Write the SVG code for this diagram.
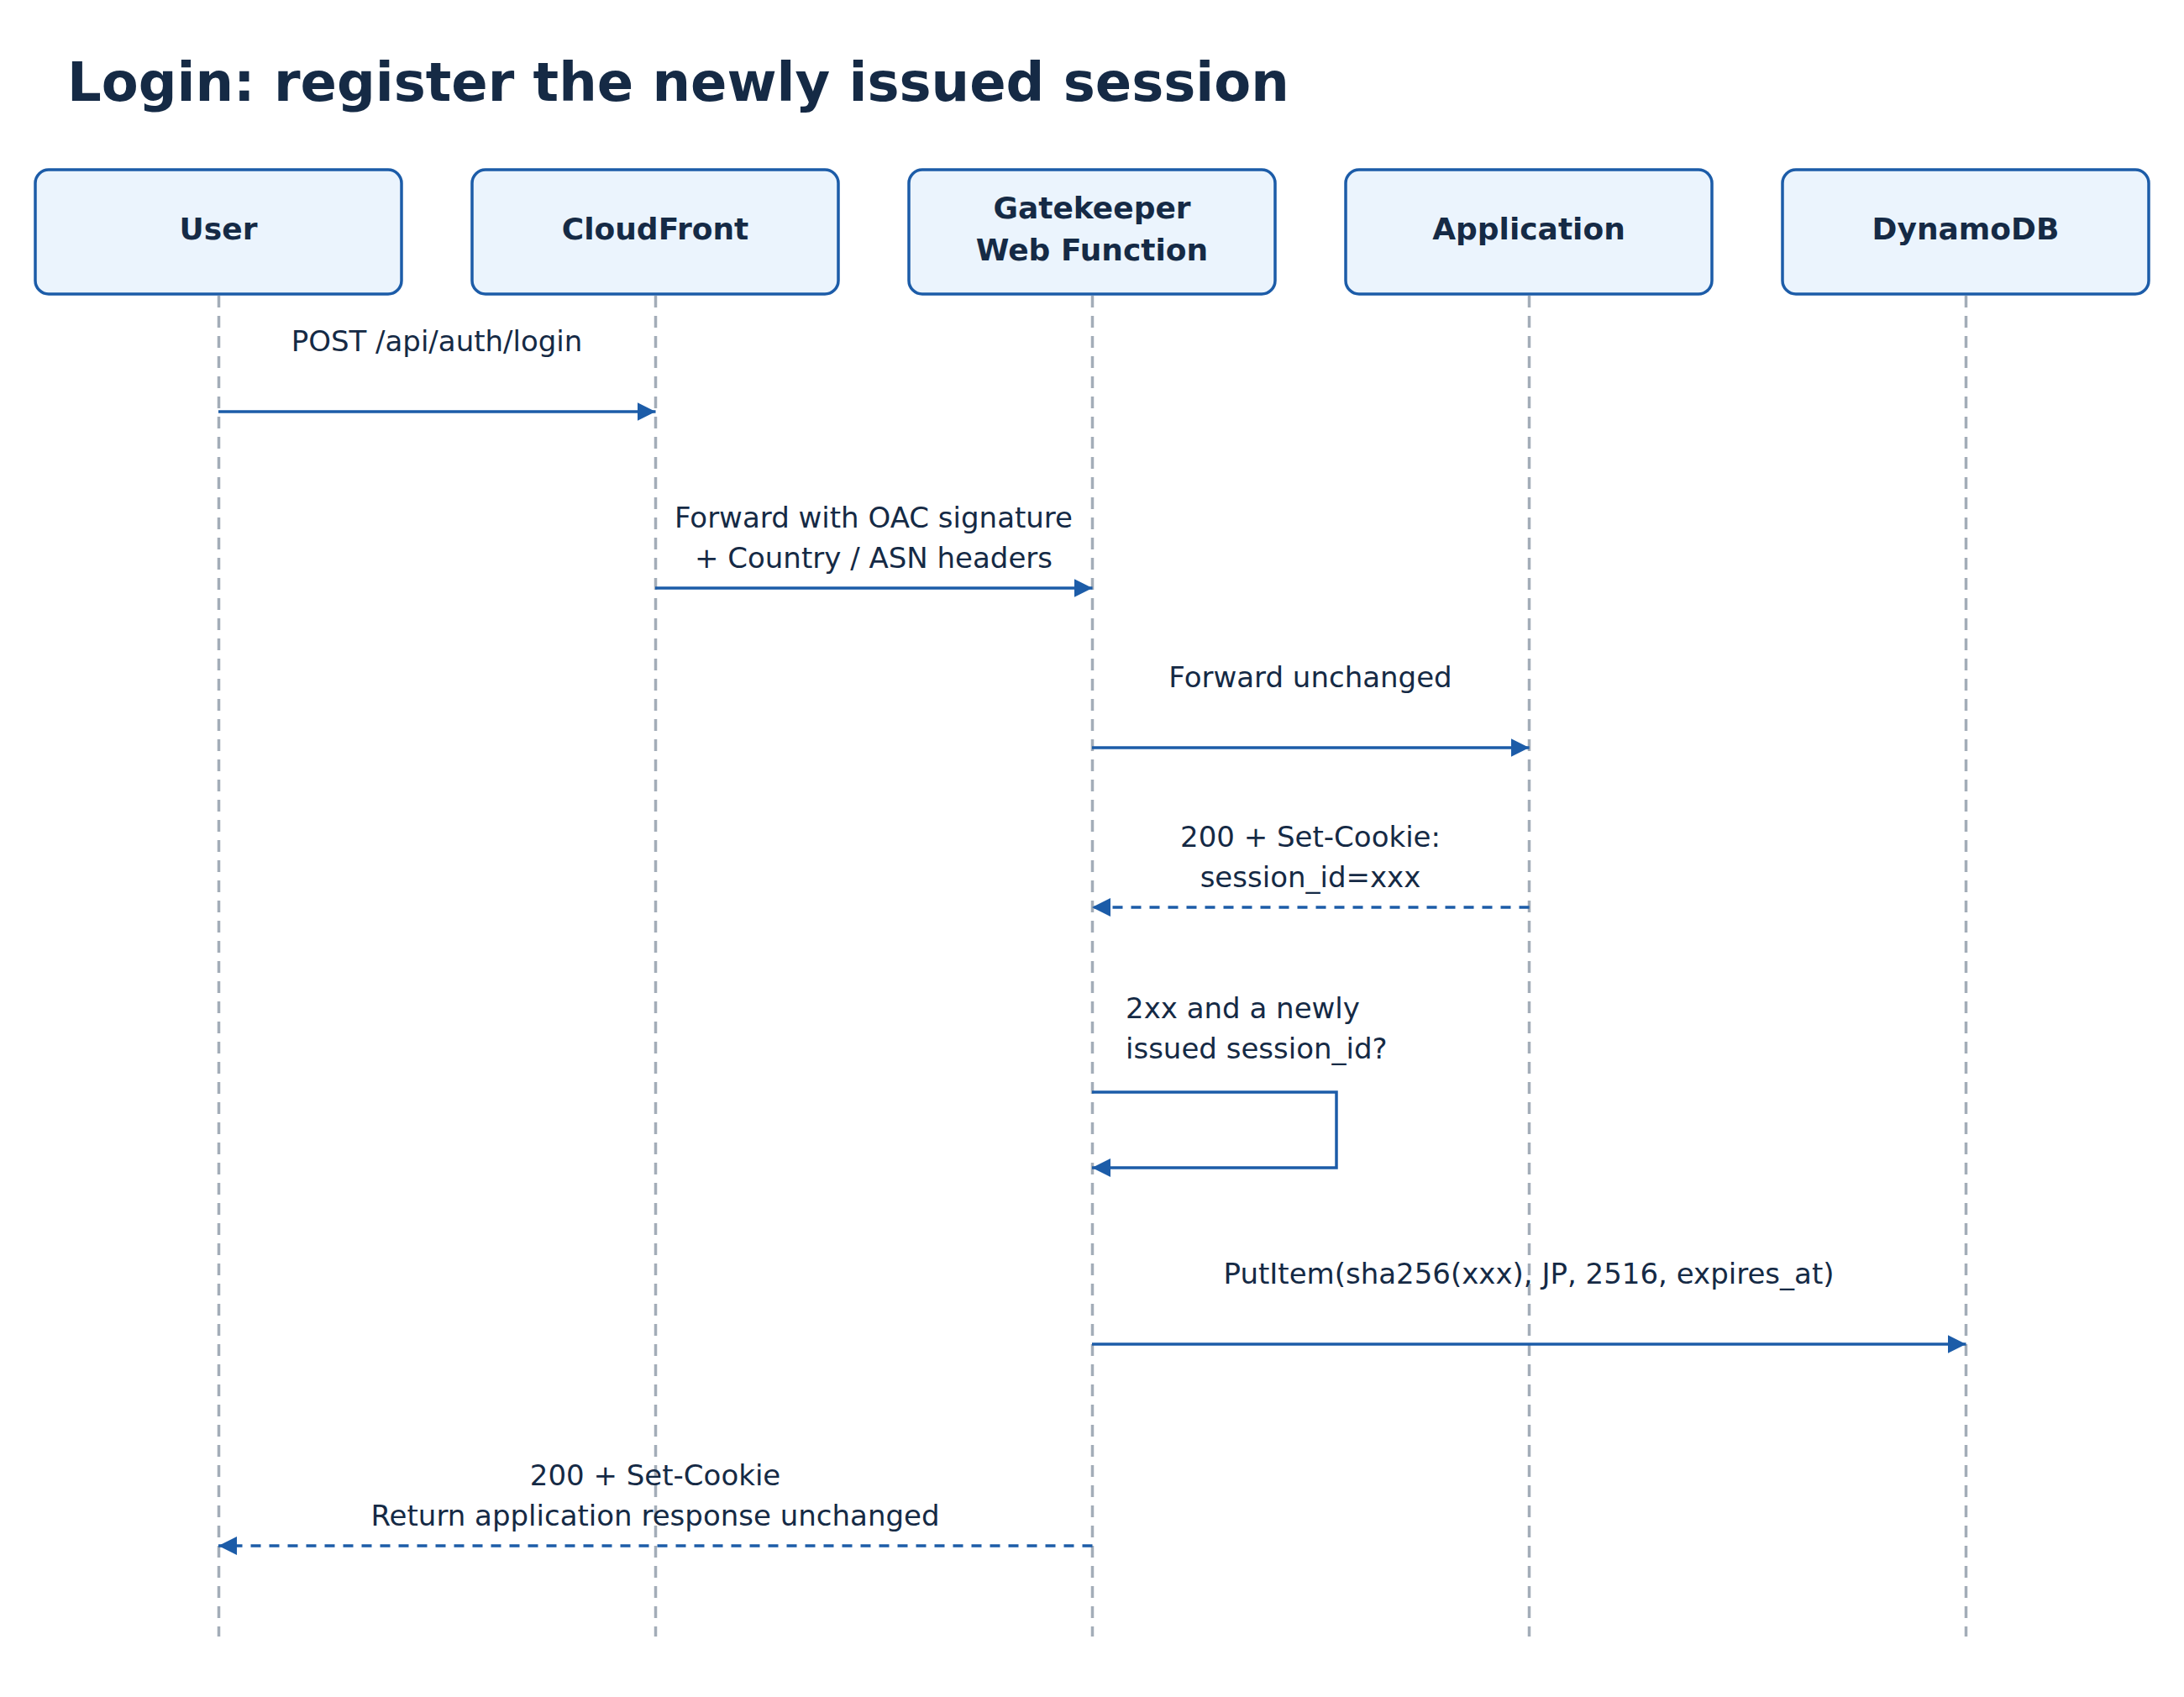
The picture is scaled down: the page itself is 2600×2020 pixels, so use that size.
<svg xmlns="http://www.w3.org/2000/svg" width="2600" height="2020" viewBox="0 0 2600 2020">
<style>
.title{font-family:"DejaVu Sans",sans-serif;font-weight:bold;font-size:64px;fill:#152a45}
.box{fill:#ebf4fd;stroke:#1c5ca8;stroke-width:3.5}
.lbl{font-family:"DejaVu Sans",sans-serif;font-weight:bold;font-size:36px;fill:#152a45;text-anchor:middle}
.life{stroke:#a3adb8;stroke-width:3.5;stroke-dasharray:14 10;fill:none}
.msg{stroke:#1c5ca8;stroke-width:3.5;fill:none}
.ret{stroke:#1c5ca8;stroke-width:3.5;fill:none;stroke-dasharray:12 10}
.mt{font-family:"DejaVu Sans",sans-serif;font-size:34px;fill:#152a45;text-anchor:middle}
.ml{font-family:"DejaVu Sans",sans-serif;font-size:34px;fill:#152a45}
</style>
<defs>
<marker id="ah" markerUnits="userSpaceOnUse" markerWidth="22" markerHeight="22" viewBox="0 0 20 20" refX="20" refY="10" orient="auto">
<path d="M0,0 L20,10 L0,20 Z" fill="#1c5ca8"/>
</marker>
</defs>
<rect width="2600" height="2020" fill="#ffffff"/>
<text class="title" x="80" y="120">Login: register the newly issued session</text>

<g id="lifelines">
<line class="life" x1="260.5" y1="352" x2="260.5" y2="1948"/>
<line class="life" x1="780.5" y1="352" x2="780.5" y2="1948"/>
<line class="life" x1="1300.5" y1="352" x2="1300.5" y2="1948"/>
<line class="life" x1="1820.5" y1="352" x2="1820.5" y2="1948"/>
<line class="life" x1="2340.5" y1="352" x2="2340.5" y2="1948"/>
</g>

<g id="user"><rect class="box" x="42" y="202" width="436" height="148" rx="16"/><text class="lbl" x="260" y="285">User</text></g>
<g id="cloudfront"><rect class="box" x="562" y="202" width="436" height="148" rx="16"/><text class="lbl" x="780" y="285">CloudFront</text></g>
<g id="gatekeeper"><rect class="box" x="1082" y="202" width="436" height="148" rx="16"/><text class="lbl" x="1300" y="260">Gatekeeper</text><text class="lbl" x="1300" y="310">Web Function</text></g>
<g id="application"><rect class="box" x="1602" y="202" width="436" height="148" rx="16"/><text class="lbl" x="1820" y="285">Application</text></g>
<g id="dynamodb"><rect class="box" x="2122" y="202" width="436" height="148" rx="16"/><text class="lbl" x="2340" y="285">DynamoDB</text></g>

<g id="connectors">
<line class="msg" x1="260" y1="490" x2="780.5" y2="490" marker-end="url(#ah)"/>
<text class="mt" x="520" y="418">POST /api/auth/login</text>

<line class="msg" x1="780" y1="700" x2="1300.5" y2="700" marker-end="url(#ah)"/>
<text class="mt" x="1040" y="628">Forward with OAC signature</text>
<text class="mt" x="1040" y="676">+ Country / ASN headers</text>

<line class="msg" x1="1300" y1="890" x2="1820.5" y2="890" marker-end="url(#ah)"/>
<text class="mt" x="1560" y="818">Forward unchanged</text>

<line class="ret" x1="1820.5" y1="1080" x2="1300" y2="1080" marker-end="url(#ah)"/>
<text class="mt" x="1560" y="1008">200 + Set-Cookie:</text>
<text class="mt" x="1560" y="1056">session_id=xxx</text>

<path class="msg" d="M1300,1300 H1591 V1390 H1300" marker-end="url(#ah)"/>
<text class="ml" x="1340" y="1212">2xx and a newly</text>
<text class="ml" x="1340" y="1260">issued session_id?</text>

<line class="msg" x1="1300" y1="1600" x2="2340.5" y2="1600" marker-end="url(#ah)"/>
<text class="mt" x="1820" y="1528">PutItem(sha256(xxx), JP, 2516, expires_at)</text>

<line class="ret" x1="1300.5" y1="1840" x2="260" y2="1840" marker-end="url(#ah)"/>
<text class="mt" x="780" y="1768">200 + Set-Cookie</text>
<text class="mt" x="780" y="1816">Return application response unchanged</text>
</g>
</svg>
